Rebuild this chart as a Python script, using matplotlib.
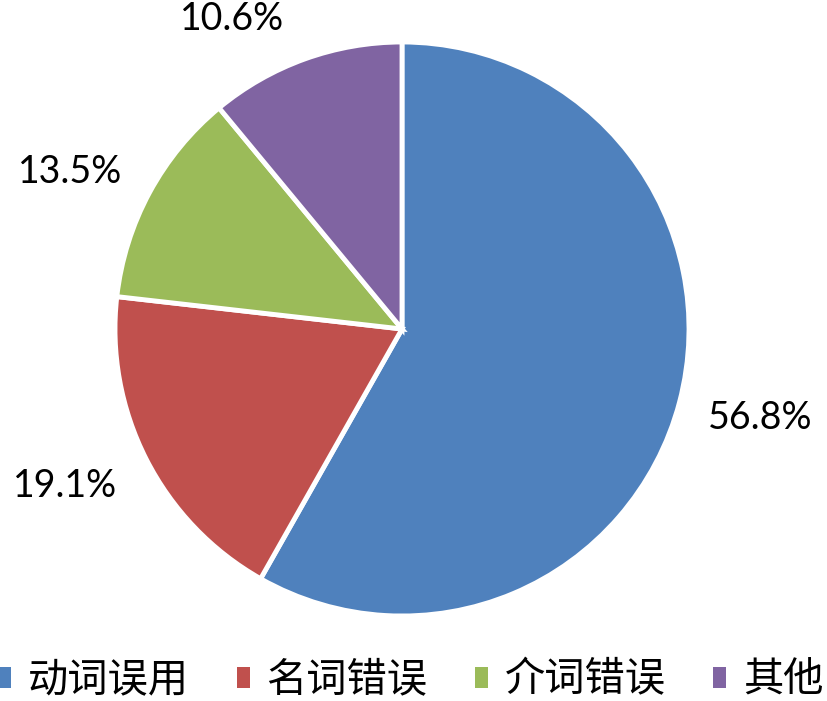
import matplotlib
matplotlib.use('Agg')
import matplotlib.pyplot as plt
from matplotlib.patches import Patch

categories = ['动词误用', '名词错误', '介词错误', '其他']
# wedge sizes as drawn in the picture, and the percentages printed beside them
shares = [58.2, 18.6, 12.2, 11.0]
pct_labels = ['56.8%', '19.1%', '13.5%', '10.6%']
colors = ['#4F81BD', '#C0504D', '#9BBB59', '#8064A2']

# label spots in axes data units (radius = 1)
label_xy = [(1.247, -0.31), (-1.174, -0.547), (-1.157, 0.547), (-0.592, 1.08)]

plt.rcParams['font.family'] = ['Noto Sans CJK SC', 'DejaVu Sans']

fig = plt.figure(figsize=(8.27, 7.01), dpi=100)
cx, cy, r = 402, 329, 287
ax = fig.add_axes([(cx - r) / 827, (701 - cy - r) / 701, 2 * r / 827, 2 * r / 701])

wedges, texts = ax.pie(
    shares, colors=colors, startangle=90, counterclock=False,
    wedgeprops={'edgecolor': 'white', 'linewidth': 3.5})
ax.set_xlim(-1, 1)
ax.set_ylim(-1, 1)
ax.set_aspect('equal')

for lab, (x, y) in zip(pct_labels, label_xy):
    ax.text(x, y, lab, ha='center', va='center', fontsize=27,
            family='Lato', color='black')

handles = [Patch(facecolor=c, edgecolor='none') for c in colors]
fig.legend(handles, categories, loc='center', bbox_to_anchor=(0.497, 1 - 680 / 701),
           ncol=4, frameon=False, fontsize=29, handlelength=0.32, handleheight=0.42,
           handletextpad=0.42, columnspacing=1.18, borderaxespad=0)

fig.savefig('out.png', dpi=100)
